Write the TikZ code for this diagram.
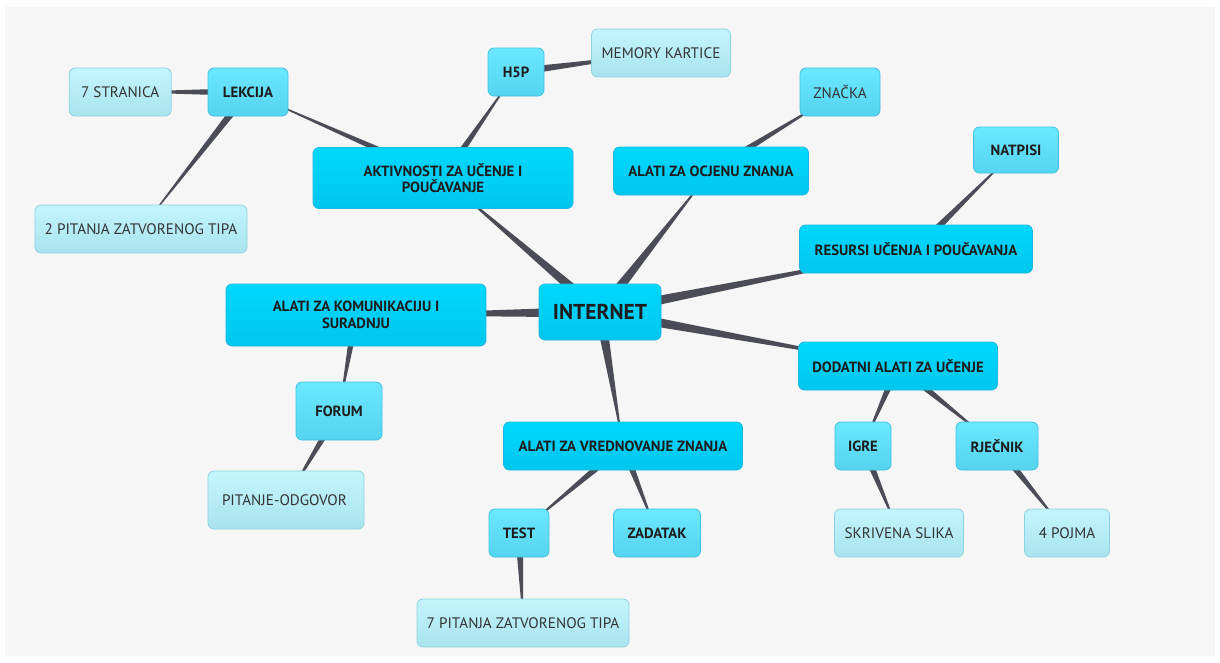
\documentclass[tikz,border=0pt]{standalone}
\usepackage{fontspec}
\setmainfont{PT Sans}
\usetikzlibrary{calc,positioning,backgrounds}

\definecolor{wedgegray}{HTML}{4B4C57}
\definecolor{paper}{HTML}{F6F6F6}
\definecolor{topicT}{HTML}{00D8FF}
\definecolor{topicB}{HTML}{00C6EE}
\definecolor{topicD}{HTML}{1BB9DF}
\definecolor{subT}{HTML}{6CE8FE}
\definecolor{subB}{HTML}{55D4F0}
\definecolor{subD}{HTML}{3CC3E2}
\definecolor{leafT}{HTML}{C4F5FE}
\definecolor{leafB}{HTML}{A8E3EE}
\definecolor{leafD}{HTML}{8ED3E2}
\definecolor{ink}{HTML}{1C1C1C}
\definecolor{softink}{HTML}{333333}

% tapered connector: wide at the parent, thin at the child
\newcommand{\conn}[3][4pt]{\fill[wedgegray] ($(#2.center)!#1!90:(#3.center)$) -- ($(#2.center)!#1!-90:(#3.center)$) -- (#3.center) -- cycle;}

\begin{document}
\begin{tikzpicture}
		[x=1pt,y=-1pt,
		box/.style={rectangle,rounded corners=6pt,line width=0.8pt,inner sep=0pt,minimum height=48pt,align=center},
		hub/.style={box,draw=topicD,top color=topicT,bottom color=topicB,text=ink,font=\fontsize{21.5}{26}\selectfont\bfseries},
		topic/.style={box,draw=topicD,top color=topicT,bottom color=topicB,text=ink,font=\fontsize{14.8}{16.5}\selectfont\bfseries},
		sub/.style={box,draw=subD,top color=subT,bottom color=subB,text=ink,font=\fontsize{14.8}{16.5}\selectfont\bfseries},
		leaf/.style={box,draw=leafD,top color=leafT,bottom color=leafB,text=softink,font=\fontsize{15.2}{17}\selectfont}]
		\useasboundingbox (0,0) rectangle (1220,662);

		\node [hub, minimum width=122pt, minimum height=56pt] (internet) at (600,312) {INTERNET};

		\node [topic, minimum width=260pt, minimum height=61pt] (aktivnosti) at (443,178) {AKTIVNOSTI ZA UČENJE I\\POUČAVANJE};
		\node [sub, minimum width=80pt] (lekcija) at (248,92) {LEKCIJA};
		\node [leaf, minimum width=102pt] (stranica) [left=36pt of lekcija] {7 STRANICA};
		\node [leaf, minimum width=212pt] (pitanja2) at (141,229) {2 PITANJA ZATVORENOG TIPA};
		\node [sub, minimum width=56pt] (hp) at (516,72) {H5P};
		\node [leaf, minimum width=139pt] (memory) at (661,53) {MEMORY KARTICE};

		\node [topic, minimum width=195pt] (ocjena) at (711,171) {ALATI ZA OCJENU ZNANJA};
		\node [sub, minimum width=80pt, font=\fontsize{15.2}{17}\selectfont, text=softink] (znacka) at (840,92) {ZNAČKA};

		\node [topic, minimum width=233pt] (resursi) at (916,249) {RESURSI UČENJA I POUČAVANJA};
		\node [sub, minimum width=85pt, minimum height=46pt] (natpisi) at (1016,150) {NATPISI};

		\node [topic, minimum width=260pt, minimum height=62pt] (komunikacija) at (356,315) {ALATI ZA KOMUNIKACIJU I\\SURADNJU};
		\node [sub, minimum width=86pt, minimum height=58pt] (forum) at (339,411) {FORUM};
		\node [leaf, minimum height=58pt, inner xsep=14pt, text width=128pt, align=left] (odgovor) at (286,500) {PITANJE-ODGOVOR};

		\node [topic, minimum width=199pt] (dodatni) at (898,366) {DODATNI ALATI ZA UČENJE};
		\node [sub, minimum width=56pt] (igre) at (863,446) {IGRE};
		\node [sub, minimum width=82pt] (rjecnik) at (997,446) {RJEČNIK};
		\node [leaf, minimum width=129pt] (slika) at (899,533) {SKRIVENA SLIKA};
		\node [leaf, minimum width=85pt] (pojma) at (1067,533) {4 POJMA};

		\node [topic, minimum width=239pt] (vrednovanje) at (623,446) {ALATI ZA VREDNOVANJE ZNANJA};
		\node [sub, minimum width=60pt] (test) at (519,533) {TEST};
		\node [sub, minimum width=87pt] (zadatak) at (657,533) {ZADATAK};
		\node [leaf, minimum width=212pt] (pitanja7) at (523,623) {7 PITANJA ZATVORENOG TIPA};

		\begin{scope}[on background layer]
			\fill [white] (0,0) rectangle (1220,662);
			\fill [paper] (5,7) rectangle (1215,656);
			\foreach \c in {aktivnosti,ocjena,resursi,komunikacija,dodatni,vrednovanje}
				\conn[5.5pt]{internet}{\c};
			\foreach \p/\c in {aktivnosti/lekcija,aktivnosti/hp,lekcija/stranica,lekcija/pitanja2,hp/memory,
				ocjena/znacka,resursi/natpisi,komunikacija/forum,forum/odgovor,dodatni/igre,dodatni/rjecnik,
				igre/slika,rjecnik/pojma,vrednovanje/test,vrednovanje/zadatak,test/pitanja7}
				\conn{\p}{\c};
		\end{scope}

	\end{tikzpicture}
\end{document}
